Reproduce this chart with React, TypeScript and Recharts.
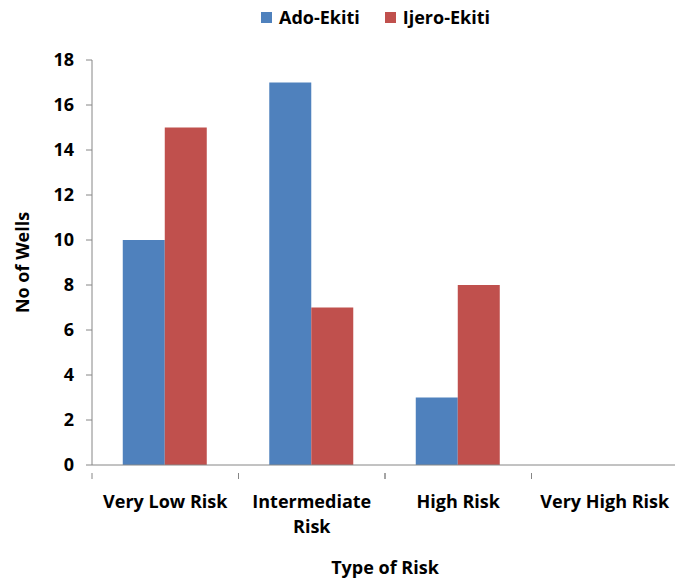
import React from 'react';
import { BarChart, Bar, XAxis, YAxis, Legend, Text } from 'recharts';

const categories = ['Very Low Risk', 'Intermediate Risk', 'High Risk', 'Very High Risk'];
const adoEkiti = [10, 17, 3, 0];
const ijeroEkiti = [15, 7, 8, 0];
const yTicks = [0, 2, 4, 6, 8, 10, 12, 14, 16, 18];

const data = categories.map((name, i) => ({
  name,
  ado: adoEkiti[i],
  ijero: ijeroEkiti[i],
}));

const FONT = '"Open Sans", Lato, sans-serif';
const FS = 18;
const AXIS = '#868686';
const BLUE = '#4F81BD';
const RED = '#C0504D';

const labelStyle = { fontFamily: FONT, fontWeight: 700, fontSize: FS };

const XTick = (props: any) => {
  const { x, y, payload } = props;
  const half = payload.offset ?? 0;
  return (
    <g>
      <line x1={x - half} y1={y} x2={x - half} y2={y + 6} stroke={AXIS} strokeWidth={1} />
      <line x1={x + half} y1={y} x2={x + half} y2={y + 6} stroke={AXIS} strokeWidth={1} />
      <Text
        x={x}
        y={y + 22}
        width={140}
        textAnchor="middle"
        verticalAnchor="start"
        lineHeight={25}
        style={labelStyle}
        fontFamily={FONT}
        fontWeight={700}
        fontSize={FS}
        fill="#000"
      >
        {payload.value}
      </Text>
    </g>
  );
};

const YLabel = (props: any) => {
  const { viewBox } = props;
  const cy = viewBox.y + viewBox.height / 2;
  return (
    <text
      x={22}
      y={cy}
      transform={`rotate(-90, 22, ${cy})`}
      textAnchor="middle"
      dominantBaseline="central"
      fontFamily={FONT}
      fontWeight={700}
      fontSize={FS}
      fill="#000"
    >
      No of Wells
    </text>
  );
};

const XLabel = (props: any) => {
  const { viewBox } = props;
  const cx = viewBox.x + viewBox.width / 2;
  return (
    <text
      x={cx}
      y={567}
      textAnchor="middle"
      dominantBaseline="central"
      fontFamily={FONT}
      fontWeight={700}
      fontSize={FS}
      fill="#000"
    >
      Type of Risk
    </text>
  );
};

const LegendContent = (props: any) => {
  const { payload } = props;
  return (
    <div style={{ display: 'flex', justifyContent: 'center', gap: 25, fontFamily: FONT, fontWeight: 700, fontSize: FS, lineHeight: '24px' }}>
      {payload.map((p: any) => (
        <div key={p.value} style={{ display: 'flex', alignItems: 'center' }}>
          <span style={{ display: 'inline-block', width: 11, height: 11, background: p.color, marginRight: 7 }} />
          <span>{p.value}</span>
        </div>
      ))}
    </div>
  );
};

export default function App() {
  return (
    <div style={{ position: 'absolute', left: 0, top: 0, background: '#fff' }}>
      <BarChart
        width={675}
        height={581}
        data={data}
        margin={{ top: 60, right: -3, bottom: 0, left: 0 }}
        barCategoryGap="21%"
        barGap={0}
      >
        <XAxis
          dataKey="name"
          height={116}
          axisLine={{ stroke: AXIS }}
          tickLine={false}
          tick={<XTick />}
          interval={0}
          label={<XLabel />}
        />
        <YAxis
          width={92}
          domain={[0, 18]}
          ticks={yTicks}
          interval={0}
          axisLine={{ stroke: AXIS }}
          tickLine={{ stroke: AXIS }}
          tickSize={6}
          tickMargin={12}
          tick={{ fontFamily: FONT, fontWeight: 700, fontSize: FS, fill: '#000' }}
          label={<YLabel />}
        />
        <Legend
          layout="horizontal"
          verticalAlign="middle"
          align="center"
          wrapperStyle={{ top: 5, left: 38, width: 675 }}
          content={<LegendContent />}
        />
        <Bar dataKey="ado" name="Ado-Ekiti" fill={BLUE} isAnimationActive={false} />
        <Bar dataKey="ijero" name="Ijero-Ekiti" fill={RED} isAnimationActive={false} />
      </BarChart>
    </div>
  );
}
